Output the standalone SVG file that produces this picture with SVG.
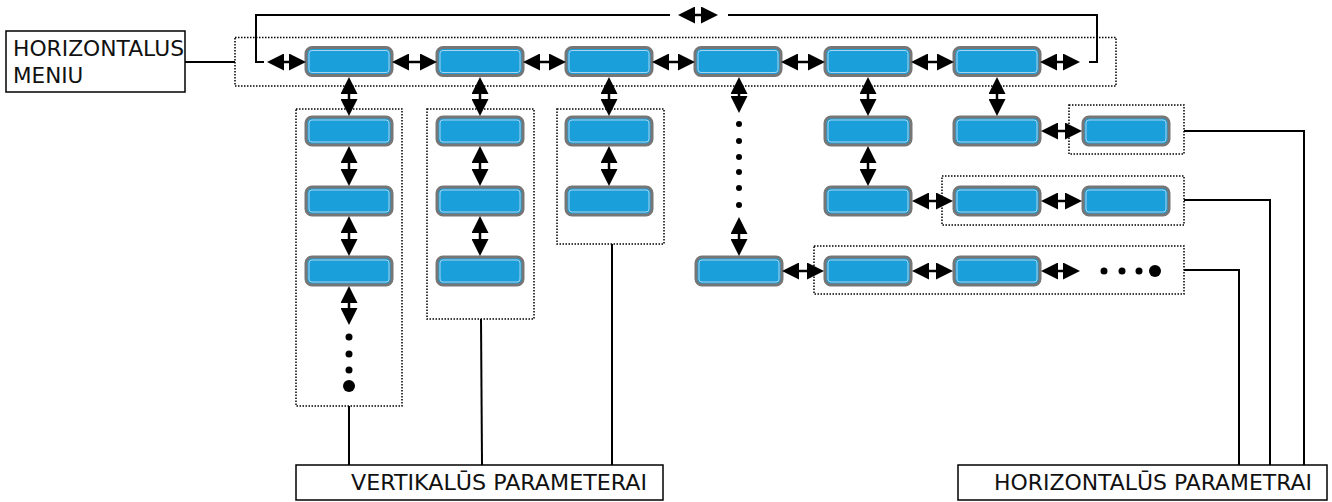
<svg xmlns="http://www.w3.org/2000/svg" width="1332" height="502" viewBox="0 0 1332 502">
  <style>
    .node-outer { fill: #1b9fdb; stroke: #767676; stroke-width: 3; }
    .node-inner { fill: none; stroke: #a9d3ec; stroke-width: 1; }
    .frame { fill: none; stroke: #000; stroke-width: 1.5; stroke-dasharray: 1.5 1.5; }
    .box { fill: #fff; stroke: #000; stroke-width: 1.5; }
    .wire { fill: none; stroke: #000; stroke-width: 2; }
    .arrow { fill: none; stroke: #000; stroke-width: 2.5; marker-start: url(#head); marker-end: url(#head); }
    .dot { fill: #000; }
    .label { font-family: "DejaVu Sans", Verdana, sans-serif; font-size: 21.5px; fill: #111; }
  </style>
  <defs>
    <marker id="head" viewBox="0 0 17 17" refX="0" refY="8.5" markerWidth="17" markerHeight="17" markerUnits="userSpaceOnUse" orient="auto-start-reverse">
      <path d="M0,0 L17,8.5 L0,17 z" fill="#000"/>
    </marker>
    <g id="btn">
      <rect class="node-outer" x="0" y="0" width="86" height="28" rx="6"/>
      <rect class="node-inner" x="3" y="3" width="80" height="22" rx="3"/>
    </g>
  </defs>
  <rect width="1332" height="502" fill="#fff"/>

  <!-- dotted grouping frames -->
  <g id="frames">
    <rect class="frame" x="235" y="37.5" width="881" height="48.5"/>
    <rect class="frame" x="296" y="109" width="106" height="297"/>
    <rect class="frame" x="427" y="109" width="107" height="210"/>
    <rect class="frame" x="557" y="109" width="107" height="135"/>
    <rect class="frame" x="1069" y="105" width="115" height="49"/>
    <rect class="frame" x="942" y="176" width="242" height="49"/>
    <rect class="frame" x="814" y="246" width="370" height="48"/>
  </g>

  <!-- labelled boxes -->
  <g id="menu-label">
    <rect class="box" x="6" y="31" width="179" height="61"/>
    <text class="label" x="13" y="56" textLength="171" lengthAdjust="spacingAndGlyphs">HORIZONTALUS</text>
    <text class="label" x="13" y="83">MENIU</text>
  </g>
  <g id="vertical-label">
    <rect class="box" x="296" y="465" width="367" height="35"/>
    <text class="label" x="351" y="490" textLength="296" lengthAdjust="spacingAndGlyphs">VERTIKALŪS PARAMETERAI</text>
  </g>
  <g id="horizontal-label">
    <rect class="box" x="958" y="465" width="369" height="35"/>
    <text class="label" x="994" y="490" textLength="318" lengthAdjust="spacingAndGlyphs">HORIZONTALŪS PARAMETRAI</text>
  </g>

  <!-- menu row -->
  <g id="m1"><use href="#btn" x="306" y="47.5"/></g>
  <g id="m2"><use href="#btn" x="437" y="47.5"/></g>
  <g id="m3"><use href="#btn" x="566" y="47.5"/></g>
  <g id="m4"><use href="#btn" x="695" y="47.5"/></g>
  <g id="m5"><use href="#btn" x="825" y="47.5"/></g>
  <g id="m6"><use href="#btn" x="954" y="47.5"/></g>

  <!-- column 1 -->
  <g id="c1a"><use href="#btn" x="306" y="117"/></g>
  <g id="c1b"><use href="#btn" x="306" y="187"/></g>
  <g id="c1c"><use href="#btn" x="306" y="257"/></g>
  <!-- column 2 -->
  <g id="c2a"><use href="#btn" x="437" y="117"/></g>
  <g id="c2b"><use href="#btn" x="437" y="187"/></g>
  <g id="c2c"><use href="#btn" x="437" y="257"/></g>
  <!-- column 3 -->
  <g id="c3a"><use href="#btn" x="566" y="117"/></g>
  <g id="c3b"><use href="#btn" x="566" y="187"/></g>
  <!-- column 4 row chain -->
  <g id="c4a"><use href="#btn" x="696" y="257"/></g>
  <g id="r3a"><use href="#btn" x="825" y="257"/></g>
  <g id="r3b"><use href="#btn" x="954" y="257"/></g>
  <!-- column 5 -->
  <g id="c5a"><use href="#btn" x="825" y="117"/></g>
  <g id="c5b"><use href="#btn" x="825" y="187"/></g>
  <g id="r2a"><use href="#btn" x="954" y="187"/></g>
  <g id="r2b"><use href="#btn" x="1083" y="187"/></g>
  <!-- column 6 -->
  <g id="c6a"><use href="#btn" x="954" y="117"/></g>
  <g id="r1a"><use href="#btn" x="1083" y="117"/></g>

  <!-- continuation dots -->
  <g id="ellipses">
    <circle class="dot" cx="349" cy="337" r="3.5"/>
    <circle class="dot" cx="349" cy="354" r="3.5"/>
    <circle class="dot" cx="349" cy="370" r="3.5"/>
    <circle class="dot" cx="349" cy="386" r="6"/>
    <circle class="dot" cx="739" cy="124" r="3"/>
    <circle class="dot" cx="739" cy="141" r="3"/>
    <circle class="dot" cx="739" cy="157" r="3"/>
    <circle class="dot" cx="739" cy="172" r="3"/>
    <circle class="dot" cx="739" cy="188" r="3"/>
    <circle class="dot" cx="739" cy="205" r="3"/>
    <circle class="dot" cx="1104" cy="271" r="3.5"/>
    <circle class="dot" cx="1122" cy="271" r="3.5"/>
    <circle class="dot" cx="1139" cy="271" r="3.5"/>
    <circle class="dot" cx="1155" cy="271" r="6"/>
  </g>

  <!-- connectors: arrow lines run base-to-base, heads come from the marker -->
  <g id="connectors">
    <!-- menu label to row frame -->
    <line class="wire" x1="185" y1="62" x2="235" y2="62"/>
    <!-- wrap-around loop -->
    <path class="wire" d="M264,62 H256 V15 H670 M728,15 H1097 V62 H1089"/>
    <line class="arrow" x1="695" y1="15" x2="701" y2="15"/>

    <!-- menu row arrows -->
    <line class="arrow" x1="284" y1="62" x2="289" y2="62"/>
    <line class="arrow" x1="409" y1="62" x2="420" y2="62"/>
    <line class="arrow" x1="540" y1="62" x2="549" y2="62"/>
    <line class="arrow" x1="669" y1="62" x2="678" y2="62"/>
    <line class="arrow" x1="798" y1="62" x2="808" y2="62"/>
    <line class="arrow" x1="928" y1="62" x2="937" y2="62"/>
    <line class="arrow" x1="1057" y1="62" x2="1063" y2="62"/>

    <!-- down from menu row -->
    <line class="arrow" x1="349" y1="94" x2="349" y2="99"/>
    <line class="arrow" x1="480" y1="94" x2="480" y2="99"/>
    <line class="arrow" x1="609" y1="94" x2="609" y2="99"/>
    <line class="arrow" x1="739" y1="94" x2="739" y2="96"/>
    <line class="arrow" x1="868" y1="94" x2="868" y2="99"/>
    <line class="arrow" x1="997" y1="94" x2="997" y2="99"/>

    <!-- column 1 -->
    <line class="arrow" x1="349" y1="163" x2="349" y2="169"/>
    <line class="arrow" x1="349" y1="233" x2="349" y2="239"/>
    <line class="arrow" x1="349" y1="303" x2="349" y2="308"/>
    <!-- column 2 -->
    <line class="arrow" x1="480" y1="163" x2="480" y2="169"/>
    <line class="arrow" x1="480" y1="233" x2="480" y2="239"/>
    <!-- column 3 -->
    <line class="arrow" x1="609" y1="163" x2="609" y2="169"/>
    <!-- column 4 -->
    <line class="arrow" x1="739" y1="234" x2="739" y2="239"/>
    <!-- column 5 -->
    <line class="arrow" x1="868" y1="163" x2="868" y2="169"/>

    <!-- horizontal chains -->
    <line class="arrow" x1="1058" y1="131" x2="1065" y2="131"/>
    <line class="arrow" x1="929" y1="201" x2="936" y2="201"/>
    <line class="arrow" x1="1058" y1="201" x2="1065" y2="201"/>
    <line class="arrow" x1="799" y1="271" x2="807" y2="271"/>
    <line class="arrow" x1="929" y1="271" x2="936" y2="271"/>
    <line class="arrow" x1="1058" y1="271" x2="1063" y2="271"/>

    <!-- leads to parameter labels -->
    <line class="wire" x1="349" y1="406" x2="349" y2="465"/>
    <line class="wire" x1="481" y1="319" x2="482" y2="465"/>
    <line class="wire" x1="612" y1="244" x2="612" y2="465"/>
    <path class="wire" d="M1184,131 H1304 V465"/>
    <path class="wire" d="M1184,200 H1270 V465"/>
    <path class="wire" d="M1184,270 H1239 V465"/>
  </g>
</svg>
